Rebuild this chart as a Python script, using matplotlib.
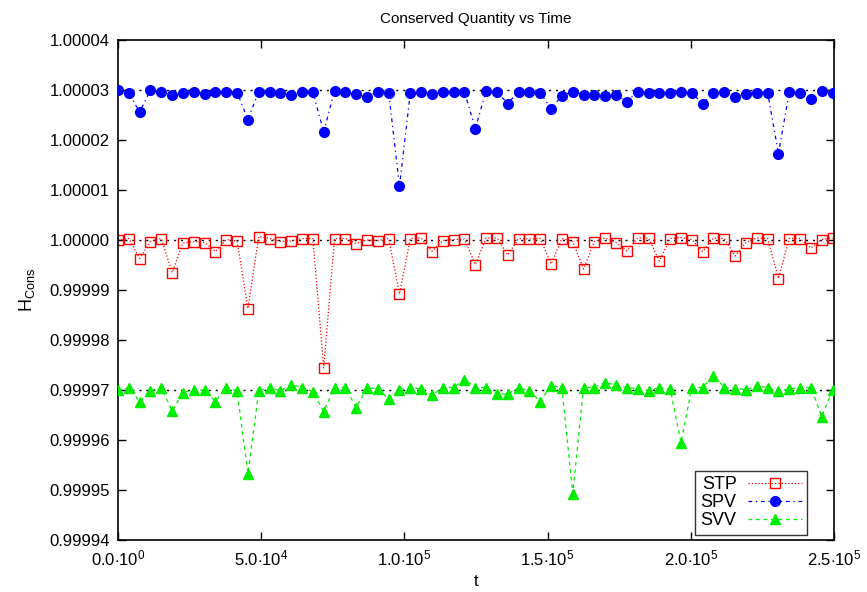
import numpy as np
import matplotlib
matplotlib.use("Agg")
import matplotlib.pyplot as plt
from matplotlib.ticker import FixedLocator

plt.rcParams['font.family'] = ['Liberation Sans', 'DejaVu Sans']
plt.rcParams['mathtext.fontset'] = 'custom'
plt.rcParams['mathtext.rm'] = 'Liberation Sans'
plt.rcParams['mathtext.it'] = 'Liberation Sans:italic'

# sample times (67 evenly spaced outputs)
t = np.linspace(0, 2.495e5, 67)

# deviations from the reference value, in units of 1e-5
stp_dev = [0.00, 0.03, -0.37, -0.03, 0.03, -0.65, -0.06, -0.03, -0.05, -0.23,
           0.01, -0.02, -1.37, 0.07, 0.03, -0.03, -0.02, 0.03, 0.03, -2.56,
           0.03, 0.03, -0.07, 0.00, -0.01, 0.03, -1.08, 0.03, 0.04, -0.23,
           -0.01, 0.01, 0.02, -0.49, 0.04, 0.04, -0.30, 0.03, 0.02, 0.03,
           -0.48, 0.03, -0.03, -0.58, -0.03, 0.04, -0.05, -0.22, 0.04, 0.04,
           -0.42, 0.03, 0.05, 0.01, -0.23, 0.04, 0.03, -0.32, -0.05, 0.04,
           0.03, -0.77, 0.03, 0.03, -0.16, 0.01, 0.04]
spv_dev = [0.00, -0.06, -0.44, 0.00, -0.04, -0.09, -0.05, -0.04, -0.07, -0.03,
           -0.03, -0.05, -0.59, -0.03, -0.03, -0.06, -0.09, -0.04, -0.04, -0.84,
           -0.01, -0.03, -0.07, -0.13, -0.04, -0.05, -1.92, -0.05, -0.03, -0.08,
           -0.03, -0.03, -0.04, -0.77, -0.02, -0.04, -0.27, -0.03, -0.03, -0.05,
           -0.38, -0.11, -0.03, -0.09, -0.10, -0.11, -0.10, -0.23, -0.03, -0.05,
           -0.05, -0.06, -0.03, -0.06, -0.27, -0.05, -0.04, -0.13, -0.08, -0.05,
           -0.05, -1.27, -0.04, -0.05, -0.17, -0.02, -0.05]
svv_dev = [0.00, 0.05, -0.23, -0.02, 0.05, -0.42, -0.05, 0.00, 0.00, -0.23,
           0.05, -0.02, -1.67, -0.02, 0.05, -0.02, 0.11, 0.05, -0.03, -0.43,
           0.05, 0.05, -0.35, 0.04, 0.03, -0.18, 0.00, 0.05, 0.02, -0.10,
           0.05, 0.05, 0.21, 0.05, 0.05, -0.08, -0.08, 0.05, -0.02, -0.23,
           0.09, 0.05, -2.07, 0.05, 0.05, 0.15, 0.10, 0.05, 0.03, -0.02,
           0.05, 0.02, -1.05, 0.05, 0.05, 0.29, 0.05, 0.03, 0.01, 0.08,
           0.05, -0.02, 0.02, 0.05, 0.05, -0.53, 0.00]

stp_ref = 1.00000
spv_ref = 1.00003
svv_ref = 0.99997

stp = stp_ref + np.array(stp_dev) * 1e-5
spv = spv_ref + np.array(spv_dev) * 1e-5
svv = svv_ref + np.array(svv_dev) * 1e-5

yticks = [0.99994, 0.99995, 0.99996, 0.99997, 0.99998, 0.99999,
          1.00000, 1.00001, 1.00002, 1.00003, 1.00004]
xticks = [0, 5e4, 1e5, 1.5e5, 2e5, 2.5e5]
xlabels = [r'$0.0{\cdot}10^{0}$', r'$5.0{\cdot}10^{4}$', r'$1.0{\cdot}10^{5}$',
           r'$1.5{\cdot}10^{5}$', r'$2.0{\cdot}10^{5}$', r'$2.5{\cdot}10^{5}$']

fig = plt.figure(figsize=(8.67, 5.92), dpi=100)
ax = fig.add_axes([118/867, 1 - 540/592, (834-118)/867, 500/592])

# reference lines
for ref in [spv_ref, stp_ref, svv_ref]:
    ax.axhline(ref, color='black', linestyle=(0, (1.5, 3.5)), linewidth=1.0, zorder=1)

ax.plot(t, stp, color='red', linestyle=':', linewidth=0.9, marker='s',
        markersize=7, markerfacecolor='none', markeredgecolor='red',
        markeredgewidth=1.0, label='STP', zorder=2)
ax.plot(t, spv, color='blue', linestyle=(0, (3, 3, 1, 3)), linewidth=0.9, marker='o',
        markersize=7, markerfacecolor='blue', markeredgecolor='blue',
        label='SPV', zorder=3)
ax.plot(t, svv, color='#00ee00', linestyle=(0, (3, 3)), linewidth=0.9, marker='^',
        markersize=6.5, markerfacecolor='#00ee00', markeredgecolor='#00ee00',
        label='SVV', zorder=3)

ax.set_xlim(0, 2.5e5)
ax.set_ylim(0.99994, 1.00004)
ax.yaxis.set_major_locator(FixedLocator(yticks))
ax.set_yticklabels(['%.5f' % v for v in yticks])
ax.set_xticks(xticks)
ax.set_xticklabels(xlabels)

ax.tick_params(direction='in', top=True, right=True, length=6, width=1,
               labelsize=12, pad=6)
for s in ax.spines.values():
    s.set_linewidth(1.2)

ax.set_title('Conserved Quantity vs Time', fontsize=11, pad=12)
ax.set_xlabel('t', fontsize=12, labelpad=4)
ax.set_ylabel(r'H$_{\mathrm{Cons}}$', fontsize=13, labelpad=9)

leg = ax.legend(loc='lower right', bbox_to_anchor=(0.97, 0.0), markerfirst=False,
                fontsize=13, frameon=True, fancybox=False, handlelength=3.0,
                borderpad=0.3, labelspacing=0.05, handletextpad=0.6,
                borderaxespad=0.3)
leg.get_frame().set_edgecolor('black')
leg.get_frame().set_linewidth(1.0)

fig.savefig('out.png', dpi=100)
